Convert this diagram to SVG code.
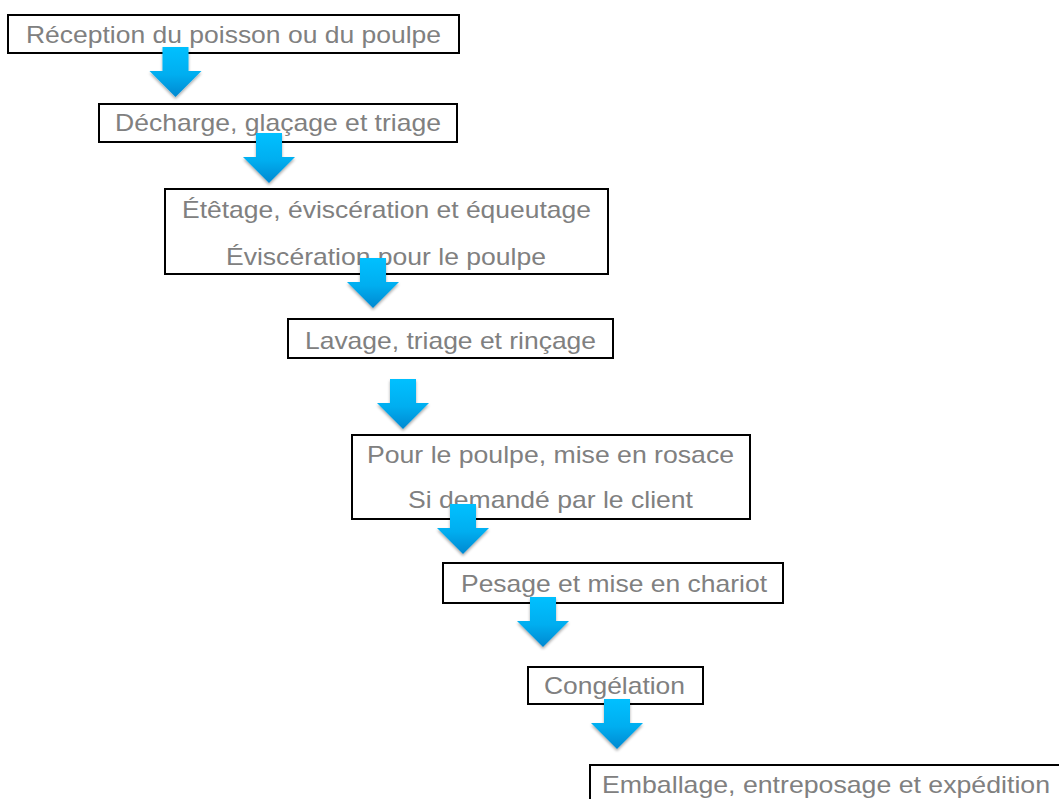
<svg xmlns="http://www.w3.org/2000/svg" width="1059" height="799" viewBox="0 0 1059 799">
  <defs>
    <style>
      .box { fill: #ffffff; stroke: #000000; stroke-width: 2; }
      .lbl { font-family: "Liberation Sans", Arial, sans-serif; font-size: 24px; fill: #808080; }
      .arrow { fill: url(#arrowFill); filter: url(#arrowShadow); }
    </style>
    <linearGradient id="arrowFill" x1="0" y1="0" x2="0" y2="1">
      <stop offset="0" stop-color="#00c0ff"/>
      <stop offset="0.55" stop-color="#00aef0"/>
      <stop offset="1" stop-color="#0088d0"/>
    </linearGradient>
    <filter id="arrowShadow" x="-30%" y="-20%" width="160%" height="150%">
      <feGaussianBlur in="SourceAlpha" stdDeviation="1.6"/>
      <feOffset dx="0" dy="2" result="blur"/>
      <feComponentTransfer><feFuncA type="linear" slope="0.35"/></feComponentTransfer>
      <feMerge><feMergeNode/><feMergeNode in="SourceGraphic"/></feMerge>
    </filter>
    <!-- down arrow centred on x=0, top at y=0 -->
    <path id="downArrow" d="M-13,0 H13 V24 H26 L0,50 L-26,24 H-13 Z"/>
  </defs>

  <g id="nodes">
    <g id="n1">
      <rect class="box" x="8" y="15" width="451" height="38"/>
      <text class="lbl" x="26" y="43" textLength="415" lengthAdjust="spacingAndGlyphs">Réception du poisson ou du poulpe</text>
    </g>
    <g id="n2">
      <rect class="box" x="99" y="104" width="358" height="38"/>
      <text class="lbl" x="115" y="131" textLength="326" lengthAdjust="spacingAndGlyphs">Décharge, glaçage et triage</text>
    </g>
    <g id="n3">
      <rect class="box" x="165" y="189" width="443" height="85"/>
      <text class="lbl" x="182" y="218" textLength="409" lengthAdjust="spacingAndGlyphs">Étêtage, éviscération et équeutage</text>
      <text class="lbl" x="226" y="265" textLength="320" lengthAdjust="spacingAndGlyphs">Éviscération pour le poulpe</text>
    </g>
    <g id="n4">
      <rect class="box" x="288" y="319" width="325" height="39"/>
      <text class="lbl" x="305" y="349" textLength="291" lengthAdjust="spacingAndGlyphs">Lavage, triage et rinçage</text>
    </g>
    <g id="n5">
      <rect class="box" x="352" y="435" width="398" height="84"/>
      <text class="lbl" x="367" y="463" textLength="367" lengthAdjust="spacingAndGlyphs">Pour le poulpe, mise en rosace</text>
      <text class="lbl" x="408" y="508" textLength="285" lengthAdjust="spacingAndGlyphs">Si demandé par le client</text>
    </g>
    <g id="n6">
      <rect class="box" x="443" y="563" width="340" height="40"/>
      <text class="lbl" x="461" y="592" textLength="306" lengthAdjust="spacingAndGlyphs">Pesage et mise en chariot</text>
    </g>
    <g id="n7">
      <rect class="box" x="528" y="667" width="175" height="37"/>
      <text class="lbl" x="544" y="694" textLength="141" lengthAdjust="spacingAndGlyphs">Congélation</text>
    </g>
    <g id="n8">
      <rect class="box" x="590" y="765" width="490" height="50"/>
      <text class="lbl" x="602" y="793" textLength="448" lengthAdjust="spacingAndGlyphs">Emballage, entreposage et expédition</text>
    </g>
  </g>

  <g id="connectors">
    <use href="#downArrow" class="arrow" x="175.5" y="47"/>
    <use href="#downArrow" class="arrow" x="269" y="133"/>
    <use href="#downArrow" class="arrow" x="373" y="258"/>
    <use href="#downArrow" class="arrow" x="403" y="379"/>
    <use href="#downArrow" class="arrow" x="463" y="504"/>
    <use href="#downArrow" class="arrow" x="543" y="597"/>
    <use href="#downArrow" class="arrow" x="617" y="699"/>
  </g>
</svg>
